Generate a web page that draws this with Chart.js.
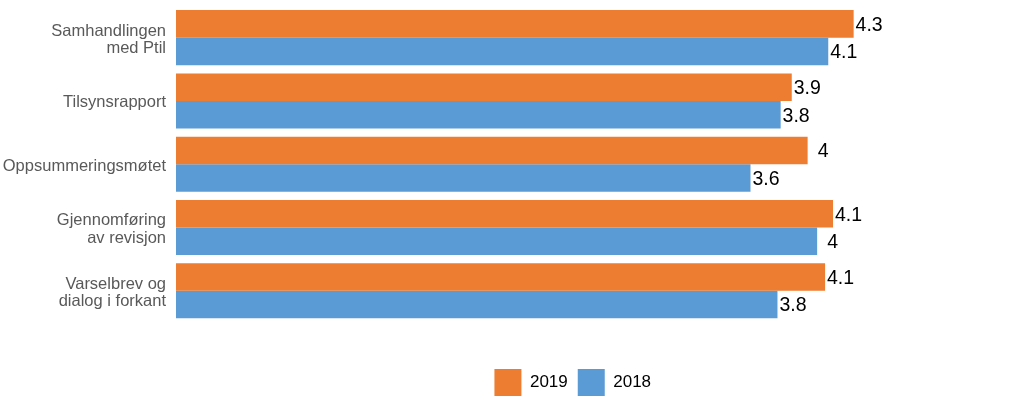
<!DOCTYPE html>
<html>
<head>
<meta charset="utf-8">
<script src="https://cdn.jsdelivr.net/npm/chart.js@4/dist/chart.umd.min.js"></script>
<style>
  html, body { margin: 0; padding: 0; background: #ffffff; }
  #wrap { width: 1024px; height: 410px; }
</style>
</head>
<body>
<div id="wrap"><canvas id="c" width="1024" height="410"></canvas></div>
<script>
const categories = [
  ['Samhandlingen', 'med Ptil'],
  'Tilsynsrapport',
  'Oppsummeringsmøtet',
  ['Gjennomføring', 'av revisjon'],
  ['Varselbrev og', 'dialog i forkant']
];
const seriesNames = ['2019', '2018'];
const values2019 = [4.27, 3.88, 3.98, 4.14, 4.09];
const values2018 = [4.11, 3.81, 3.62, 4.04, 3.79];
const xTicks = [0, 5];

const FONT = "Arial, 'Liberation Sans', sans-serif";

const valueLabels = {
  id: 'valueLabels',
  afterDatasetsDraw(chart) {
    const ctx = chart.ctx;
    ctx.save();
    ctx.font = '19.5px ' + FONT;
    ctx.fillStyle = '#000000';
    ctx.textAlign = 'center';
    ctx.textBaseline = 'middle';
    chart.data.datasets.forEach((ds, di) => {
      const meta = chart.getDatasetMeta(di);
      meta.data.forEach((el, i) => {
        const v = Math.round(ds.data[i] * 10) / 10;
        ctx.fillText(String(v), el.x + 15.5, el.y + 1.5);
      });
    });
    ctx.restore();
  }
};

new Chart(document.getElementById('c'), {
  type: 'bar',
  data: {
    labels: categories,
    datasets: [
      { label: seriesNames[0], data: values2019, backgroundColor: '#ED7D31', borderWidth: 0 },
      { label: seriesNames[1], data: values2018, backgroundColor: '#5B9BD5', borderWidth: 0 }
    ]
  },
  options: {
    indexAxis: 'y',
    responsive: false,
    animation: false,
    events: [],
    layout: { padding: { top: 6, right: 54.5, bottom: 4, left: 0 } },
    datasets: { bar: { categoryPercentage: 0.87, barPercentage: 1.0 } },
    scales: {
      x: {
        min: xTicks[0],
        max: xTicks[1],
        grid: { display: false, drawTicks: false },
        border: { display: false },
        ticks: { display: false },
        afterFit(s) { s.height = 36.6; s.paddingLeft = 0; s.paddingRight = 0; }
      },
      y: {
        grid: { display: false, drawTicks: false },
        border: { display: false },
        ticks: {
          color: '#595959',
          padding: 10,
          labelOffset: 2,
          font: { family: FONT, size: 16.5, lineHeight: 1.05 }
        },
        afterFit(s) { s.width = 176; s.paddingTop = 0; s.paddingBottom = 0; }
      }
    },
    plugins: {
      tooltip: { enabled: false },
      legend: {
        position: 'bottom',
        fullSize: false,
        labels: {
          boxWidth: 27,
          boxHeight: 27,
          padding: 10,
          color: '#000000',
          font: { family: FONT, size: 17 }
        }
      }
    }
  },
  plugins: [valueLabels]
});
</script>
</body>
</html>
